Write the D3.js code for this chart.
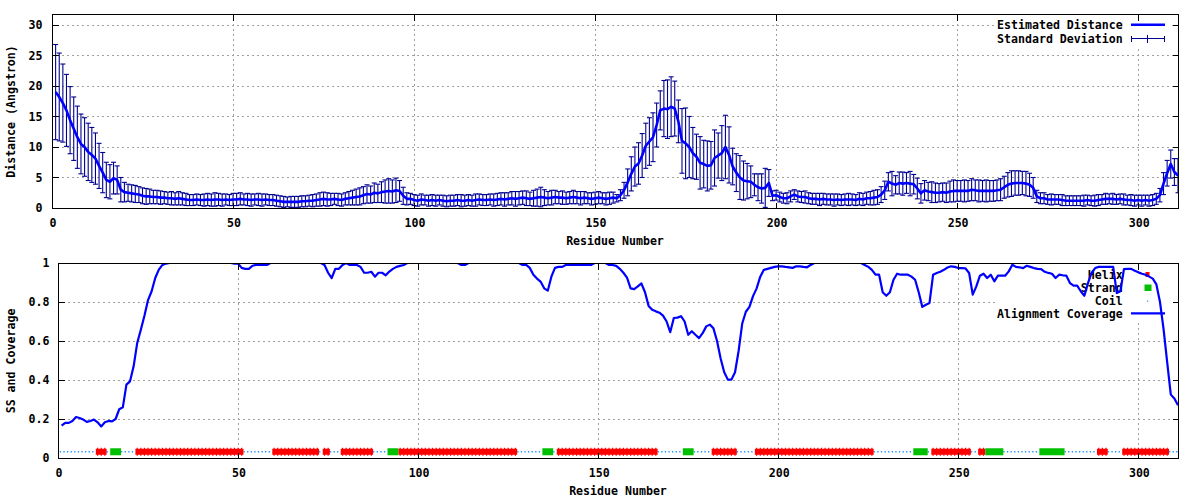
<!DOCTYPE html>
<html><head><meta charset="utf-8">
<script src="https://cdn.jsdelivr.net/npm/d3@7"></script>
<style>body{margin:0;background:#fff}svg{display:block}</style>
</head><body><svg id="c" width="1200" height="500"></svg>
<script>
// ---------------- data ----------------
const residues = d3.range(1, 312);
const distance = [
 19.0,18.2,17.2,16.0,14.4,13.0,11.6,10.5,10.0,9.2,
 8.7,8.1,6.9,5.8,4.6,4.3,4.9,4.6,3.0,2.6,
 2.5,2.4,2.3,2.2,2.0,1.9,1.9,1.8,1.8,1.7,
 1.7,1.6,1.6,1.5,1.6,1.5,1.4,1.3,1.3,1.4,
 1.3,1.3,1.4,1.3,1.4,1.4,1.3,1.4,1.3,1.4,
 1.4,1.5,1.4,1.4,1.3,1.4,1.4,1.3,1.4,1.3,
 1.3,1.2,1.1,1.0,1.0,1.0,1.0,1.0,1.1,1.1,
 1.2,1.2,1.3,1.4,1.5,1.4,1.4,1.5,1.4,1.3,
 1.5,1.6,1.7,1.8,1.9,2.1,2.3,2.2,2.5,2.4,
 2.6,2.7,2.8,2.7,2.9,2.8,2.0,1.5,1.5,1.3,
 1.2,1.4,1.3,1.2,1.3,1.2,1.3,1.2,1.1,1.2,
 1.2,1.3,1.2,1.2,1.3,1.2,1.3,1.4,1.3,1.3,
 1.4,1.3,1.4,1.5,1.4,1.5,1.6,1.5,1.6,1.7,
 1.6,1.5,1.6,1.7,1.8,1.7,1.6,1.7,1.8,1.7,
 1.7,1.6,1.7,1.8,1.7,1.6,1.7,1.6,1.5,1.6,
 1.7,1.6,1.5,1.6,1.7,1.6,2.1,2.9,4.2,5.6,
 6.8,7.3,8.6,10.2,10.9,11.6,13.6,16.0,16.3,16.2,
 16.6,16.3,14.2,11.0,10.6,10.0,9.0,8.4,7.4,7.2,
 6.9,7.0,8.2,8.6,9.0,10.0,8.7,6.8,5.8,5.0,
 4.5,4.4,4.3,3.8,3.4,3.2,3.3,4.1,2.0,2.1,
 1.8,1.6,1.6,1.9,2.2,1.9,1.8,1.8,1.6,1.5,
 1.5,1.4,1.5,1.4,1.4,1.3,1.4,1.3,1.4,1.4,
 1.4,1.3,1.5,1.4,1.6,1.6,1.7,1.8,2.2,2.9,
 4.3,4.0,3.8,4.1,4.0,4.1,4.0,3.9,3.2,2.4,
 2.9,2.7,2.6,2.5,2.5,2.6,2.5,2.7,2.8,2.8,
 2.8,2.8,2.8,3.0,2.9,2.8,2.8,2.8,2.8,2.8,
 2.9,3.0,3.4,3.8,4.0,4.1,4.1,4.1,4.0,3.8,
 3.3,1.9,1.6,1.6,1.4,1.4,1.4,1.4,1.3,1.2,
 1.2,1.2,1.2,1.2,1.2,1.3,1.2,1.2,1.3,1.4,
 1.5,1.5,1.5,1.4,1.5,1.4,1.3,1.3,1.2,1.3,
 1.2,1.3,1.2,1.3,1.5,2.1,4.0,5.7,7.2,5.9,5.3];
const stdDev = [
 7.8,7.2,6.4,5.9,5.5,5.2,5.1,4.9,4.8,4.7,
 4.5,4.2,3.7,3.3,2.9,2.8,2.6,2.3,2.0,1.6,
 1.4,1.4,1.4,1.3,1.3,1.3,1.2,1.1,1.1,1.1,
 1.0,1.0,1.1,1.0,1.1,1.0,1.0,0.9,0.9,0.9,
 0.9,1.0,1.0,1.0,1.1,1.0,1.0,0.9,0.9,1.0,
 1.0,1.0,0.9,1.0,1.0,0.9,1.0,1.0,0.9,0.9,
 0.9,0.9,0.9,0.9,0.8,0.9,0.9,0.9,0.9,0.9,
 0.9,1.0,1.0,1.1,1.1,1.1,1.0,0.9,1.0,1.0,
 1.0,1.1,1.2,1.3,1.4,1.4,1.5,1.4,1.6,1.5,
 1.7,1.9,2.0,1.9,2.0,1.7,1.4,1.0,0.9,0.9,
 0.9,0.9,0.8,0.9,0.9,0.9,0.8,0.9,0.9,0.9,
 0.9,0.9,1.0,0.9,0.9,0.9,1.0,0.9,0.9,0.9,
 0.9,1.0,1.0,1.0,1.1,1.0,1.1,1.2,1.1,1.1,
 1.2,1.1,1.3,1.4,1.6,1.3,1.1,1.2,1.1,1.0,
 1.1,1.0,1.0,1.1,1.0,1.1,1.0,0.9,1.0,1.0,
 1.0,0.9,1.0,1.0,0.9,0.6,0.9,1.3,2.2,2.8,
 3.2,3.4,3.6,3.7,3.9,4.0,3.6,3.2,4.6,4.8,
 4.9,4.5,3.5,5.3,5.8,5.0,4.2,3.7,4.3,3.9,
 4.1,3.9,4.6,3.7,4.5,5.2,4.6,3.0,3.1,3.6,
 3.2,2.9,2.6,1.8,2.2,2.4,3.2,2.2,0.8,0.8,
 0.8,0.8,0.9,0.9,0.8,0.9,0.9,1.0,0.9,0.9,
 0.9,1.0,0.9,0.9,0.9,1.0,0.9,0.9,0.9,1.0,
 0.9,0.9,1.0,1.0,1.0,1.1,1.2,1.2,1.3,1.5,
 1.5,2.0,1.5,1.8,1.9,1.7,2.0,1.6,1.7,1.6,
 1.6,1.5,1.7,1.6,1.5,1.5,1.6,1.7,1.8,1.7,
 1.7,1.8,1.7,1.8,1.7,1.8,1.7,1.8,1.7,1.7,
 1.7,1.8,1.8,2.0,2.1,2.0,2.0,1.9,2.0,1.9,
 1.7,1.0,0.9,0.9,0.8,0.9,0.8,0.8,0.9,0.8,
 0.8,0.8,0.8,0.8,0.9,0.8,0.8,0.9,0.9,0.8,
 0.9,0.8,0.9,0.8,0.8,0.9,0.8,0.9,0.9,0.8,
 0.9,0.8,0.9,0.9,0.9,1.1,1.8,2.1,2.3,2.2,2.8];
const coverage = [
 0.166,0.18,0.18,0.19,0.21,0.205,0.197,0.185,0.19,0.197,
 0.183,0.162,0.183,0.19,0.188,0.20,0.25,0.26,0.376,0.393,
 0.47,0.59,0.658,0.73,0.81,0.855,0.923,0.966,0.99,0.997,
 1,1,1,1,1,1,1,1,1,1,
 1,1,1,1,1,1,1,1,0.997,0.997,
 0.975,0.97,0.97,0.986,0.99,0.99,0.99,0.99,1,1,
 1,1,1,1,1,1,1,1,1,1,
 1,1,1,0.99,0.95,0.923,0.97,0.97,0.99,1,
 0.99,0.99,0.99,0.98,0.95,0.95,0.955,0.93,0.95,0.95,
 0.937,0.956,0.97,0.98,0.985,0.99,1,1,1,1,
 1,1,1,1,1,1,1,1,1,1,
 1,0.99,0.99,1,1,1,1,1,1,1,
 1,1,1,1,1,1,1,1,0.99,0.99,
 0.975,0.94,0.92,0.905,0.87,0.858,0.93,0.975,0.98,0.98,
 0.99,0.99,0.99,0.99,0.99,0.99,0.99,0.99,1,1,
 1,1,0.99,0.99,0.985,0.97,0.95,0.925,0.87,0.866,
 0.88,0.895,0.85,0.78,0.76,0.752,0.745,0.73,0.70,0.645,
 0.718,0.72,0.727,0.70,0.632,0.65,0.632,0.615,0.64,0.675,
 0.684,0.665,0.60,0.51,0.44,0.402,0.402,0.44,0.55,0.69,
 0.75,0.775,0.83,0.87,0.93,0.965,0.97,0.975,0.98,0.983,
 0.983,0.98,0.978,0.975,0.983,0.983,0.98,0.978,0.99,1,
 1,1,1,1,1,1,1,1,1,1,
 1,1,1,0.99,0.98,0.965,0.94,0.94,0.85,0.832,
 0.85,0.914,0.945,0.94,0.94,0.94,0.93,0.914,0.85,0.775,
 0.786,0.795,0.94,0.949,0.955,0.965,0.977,0.983,0.98,0.974,
 0.974,0.972,0.949,0.838,0.88,0.935,0.945,0.923,0.94,0.906,
 0.935,0.935,0.935,0.957,0.991,0.98,0.978,0.974,0.986,0.98,
 0.974,0.97,0.969,0.955,0.949,0.945,0.923,0.94,0.937,0.935,
 0.897,0.884,0.884,0.855,0.832,0.897,0.949,0.974,0.98,0.98,
 0.98,0.98,0.98,0.846,0.855,0.969,0.97,0.97,0.96,0.952,
 0.945,0.94,0.93,0.92,0.89,0.80,0.66,0.49,0.325,0.305,0.27];
// secondary structure as runs: [code, length]  H=helix, E=strand, C=coil
const ssRuns = [
 ["C",10],["H",3],["C",1],["E",3],["C",4],["H",30],["C",8],["H",13],["C",1],["H",2],["C",3],
 ["H",9],["C",4],["E",3],["H",33],["C",7],["E",3],["C",1],["H",28],["C",7],["E",3],
 ["C",5],["H",7],["C",5],["H",33],["C",11],["E",4],["C",1],["H",11],["C",2],["H",2],
 ["E",5],["C",10],["E",7],["C",9],["H",3],["C",4],["H",13],["C",3]];
const residueTicks = [0,50,100,150,200,250,300];
const distTicks = [0,5,10,15,20,25,30];
const covTicks = [0,0.2,0.4,0.6,0.8,1];
const topLegend = ["Estimated Distance","Standard Deviation"];
const botLegend = ["Helix","Strand","Coil","Alignment Coverage"];

// ---------------- drawing ----------------
const FONT = "'DejaVu Sans Mono','Liberation Mono',monospace";
const svg = d3.select("#c");
const BLUE = "#0000ff", DARK = "#000090", RED = "#ff0000", GREEN = "#00c000", COIL = "#1e90ff", GRID = "#a0a0a0";

const xTop = d3.scaleLinear().domain([0,311]).range([52,1178]);
const yTop = d3.scaleLinear().domain([0,31.8]).range([208,14]);
const xBot = d3.scaleLinear().domain([0,311]).range([58,1178]);
const yBot = d3.scaleLinear().domain([0,1]).range([458,263]);

function txt(g, s, x, y, anchor){
  return g.append("text").attr("x",x).attr("y",y).attr("dy","0.35em")
    .attr("text-anchor",anchor||"middle").attr("font-family",FONT)
    .attr("font-size","11.6px").attr("font-weight","bold").attr("fill","#000").text(s);
}

function grid(g, x, y, yt){
  const [x0,x1]=x.range(), [y0,y1]=y.range();
  const gg = g.append("g").attr("stroke",GRID).attr("stroke-width",1)
    .attr("stroke-dasharray","2,3").attr("shape-rendering","crispEdges");
  yt.filter(t=>y(t)<y0-1 && y(t)>y1+1).forEach(t=>{
    gg.append("line").attr("x1",x0).attr("x2",x1).attr("y1",Math.round(y(t))+0.5).attr("y2",Math.round(y(t))+0.5);
  });
  residueTicks.filter(t=>x(t)>x0+1 && x(t)<x1-1).forEach(t=>{
    gg.append("line").attr("y1",y1).attr("y2",y0).attr("x1",Math.round(x(t))+0.5).attr("x2",Math.round(x(t))+0.5);
  });
}

function frame(g, x, y, yt, fmt, labelGap){
  const [x0,x1]=x.range(), [y0,y1]=y.range();
  const L=Math.round(x0)+0.5, R=Math.round(x1)+0.5, T=Math.round(y1)+0.5, B=Math.round(y0)+0.5;
  const fg = g.append("g").attr("stroke","#000").attr("stroke-width",1).attr("shape-rendering","crispEdges");
  yt.forEach(t=>{
    const yy=Math.round(y(t))+0.5;
    fg.append("line").attr("x1",L).attr("x2",L+6).attr("y1",yy).attr("y2",yy);
    fg.append("line").attr("x1",R-6).attr("x2",R).attr("y1",yy).attr("y2",yy);
    txt(g, fmt(t), x0-labelGap, y(t), "end");
  });
  residueTicks.forEach(t=>{
    const xx=Math.round(x(t))+0.5;
    fg.append("line").attr("x1",xx).attr("x2",xx).attr("y1",B-6).attr("y2",B);
    fg.append("line").attr("x1",xx).attr("x2",xx).attr("y1",T).attr("y2",T+6);
    txt(g, String(t), x(t)+1, y0+14.5, "middle");
  });
  fg.append("rect").attr("x",L).attr("y",T).attr("width",R-L).attr("height",B-T).attr("fill","none");
}

function clip(id, x, y){
  const [x0,x1]=x.range(), [y0,y1]=y.range();
  svg.append("clipPath").attr("id",id).append("rect").attr("x",x0).attr("y",y1).attr("width",x1-x0).attr("height",y0-y1);
}

// ===== top panel =====
const topG = svg.append("g");
grid(topG, xTop, yTop, distTicks);
topG.append("rect").attr("x",995).attr("y",17).attr("width",175).attr("height",29).attr("fill","#fff");
clip("clipTop", xTop, yTop);
const rows = residues.map((r,i)=>({r, d:distance[i], s:stdDev[i]}));
const eb = topG.append("g").attr("clip-path","url(#clipTop)").attr("stroke",DARK).attr("stroke-width",1.1).attr("fill","none");
rows.forEach(p=>{
  const xx = xTop(p.r), ya = yTop(p.d+p.s), yb = yTop(Math.max(p.d-p.s, -1));
  eb.append("line").attr("x1",xx).attr("x2",xx).attr("y1",ya).attr("y2",yb);
  eb.append("line").attr("x1",xx-2.5).attr("x2",xx+2.5).attr("y1",ya).attr("y2",ya);
  eb.append("line").attr("x1",xx-2.5).attr("x2",xx+2.5).attr("y1",yb).attr("y2",yb);
});
topG.append("path").datum(rows).attr("clip-path","url(#clipTop)")
  .attr("d", d3.line().x(p=>xTop(p.r)).y(p=>yTop(p.d)))
  .attr("fill","none").attr("stroke",BLUE).attr("stroke-width",2.6).attr("stroke-linejoin","round");
frame(topG, xTop, yTop, distTicks, d=>String(d), 9.5);
// legend
txt(topG, topLegend[0], 1122.7, 25.3, "end");
topG.append("line").attr("x1",1131).attr("x2",1165).attr("y1",24.8).attr("y2",24.8).attr("stroke",BLUE).attr("stroke-width",2.6);
txt(topG, topLegend[1], 1122.7, 38.7, "end");
const lg = topG.append("g").attr("stroke",DARK).attr("stroke-width",1).attr("shape-rendering","crispEdges");
lg.append("line").attr("x1",1131).attr("x2",1165).attr("y1",38.5).attr("y2",38.5);
lg.append("line").attr("x1",1131.5).attr("x2",1131.5).attr("y1",35.5).attr("y2",41.5);
lg.append("line").attr("x1",1164.5).attr("x2",1164.5).attr("y1",35.5).attr("y2",41.5);
lg.append("line").attr("x1",1147.5).attr("x2",1147.5).attr("y1",34.5).attr("y2",42.5);
txt(topG, "Residue Number", 615, 240.7, "middle");
topG.append("text").attr("transform","translate(10.5,111.5) rotate(-90)").attr("dy","0.35em")
  .attr("text-anchor","middle").attr("font-family",FONT).attr("font-size","11.6px").attr("font-weight","bold")
  .text("Distance (Angstron)");

// ===== bottom panel =====
const botG = svg.append("g");
grid(botG, xBot, yBot, covTicks);
botG.append("rect").attr("x",996).attr("y",268).attr("width",174).attr("height",53).attr("fill","#fff");
clip("clipBot", xBot, yBot);
// legend (drawn under the data, as in the reference)
const lx = 1122.7, ly = [275.3, 288.3, 301.3, 314.3];
botLegend.forEach((s,i)=>txt(botG, s, lx, ly[i], "end"));
botG.append("rect").attr("x",1145.5).attr("y",272).attr("width",4).attr("height",5).attr("fill",RED);
botG.append("rect").attr("x",1144.5).attr("y",284.5).attr("width",7).attr("height",6.5).attr("fill",GREEN);
botG.append("rect").attr("x",1147).attr("y",300.5).attr("width",1.2).attr("height",1.2).attr("fill",COIL);
botG.append("line").attr("x1",1131).attr("x2",1165).attr("y1",313.3).attr("y2",313.3).attr("stroke",BLUE).attr("stroke-width",2.2);

// secondary structure
let start = 1;
const runs = ssRuns.map(([c,n])=>{ const o={c, a:start, b:start+n-1}; start+=n; return o; });
const ssY = yBot(0.032);
const ss = botG.append("g").attr("clip-path","url(#clipBot)");
runs.filter(o=>o.c==="C").forEach(o=>{
  ss.append("line").attr("x1",xBot(o.a-0.5)).attr("x2",xBot(o.b+0.5)).attr("y1",ssY).attr("y2",ssY)
    .attr("stroke",COIL).attr("stroke-width",1.3).attr("stroke-dasharray","1.3,2.3");
});
runs.filter(o=>o.c==="H").forEach(o=>{
  ss.append("rect").attr("x",xBot(o.a-0.5)).attr("width",xBot(o.b+0.5)-xBot(o.a-0.5))
    .attr("y",ssY-3).attr("height",6).attr("fill",RED);
  d3.range(o.a,o.b+1).forEach(r=>{
    ss.append("rect").attr("x",xBot(r)-0.6).attr("width",1.2).attr("y",ssY-4).attr("height",8).attr("fill",RED);
  });
});
runs.filter(o=>o.c==="E").forEach(o=>{
  ss.append("rect").attr("x",xBot(o.a-0.5)).attr("width",xBot(o.b+0.5)-xBot(o.a-0.5))
    .attr("y",ssY-3.5).attr("height",7).attr("fill",GREEN);
});

// coverage line
const cov = residues.map((r,i)=>({r, v:coverage[i]}));
botG.append("path").datum(cov).attr("clip-path","url(#clipBot)")
  .attr("d", d3.line().x(p=>xBot(p.r)).y(p=>yBot(p.v)))
  .attr("fill","none").attr("stroke",BLUE).attr("stroke-width",2.2).attr("stroke-linejoin","round");
frame(botG, xBot, yBot, covTicks, d=>d===0?"0":d===1?"1":d.toFixed(1), 8.5);
txt(botG, "Residue Number", 618, 490.7, "middle");
botG.append("text").attr("transform","translate(10.5,361) rotate(-90)").attr("dy","0.35em")
  .attr("text-anchor","middle").attr("font-family",FONT).attr("font-size","11.6px").attr("font-weight","bold")
  .text("SS and Coverage");
</script>
</body></html>
